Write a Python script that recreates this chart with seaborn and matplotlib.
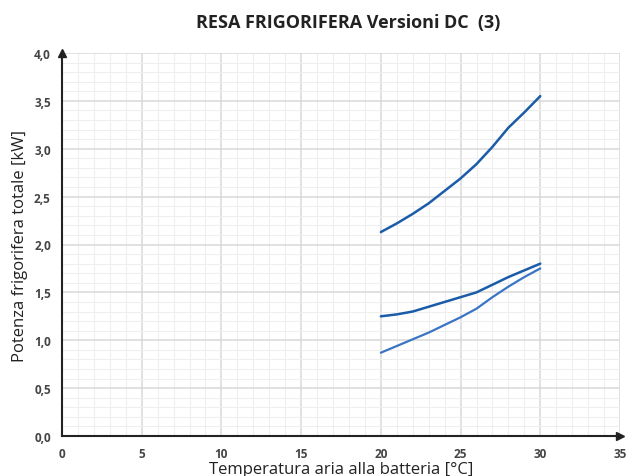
import numpy as np
import pandas as pd
import matplotlib.pyplot as plt
import seaborn as sns
from matplotlib.ticker import MultipleLocator, FuncFormatter

# values
temp = [20, 21, 22, 23, 24, 25, 26, 27, 28, 29, 30]
curve_high = [2.13, 2.22, 2.32, 2.43, 2.56, 2.69, 2.84, 3.02, 3.22, 3.38, 3.55]
curve_mid = [1.25, 1.27, 1.30, 1.35, 1.40, 1.45, 1.50, 1.58, 1.66, 1.73, 1.80]
curve_low = [0.87, 0.94, 1.01, 1.08, 1.16, 1.24, 1.33, 1.45, 1.56, 1.66, 1.75]

x_ticks = [0, 5, 10, 15, 20, 25, 30, 35]
y_ticks = [0.0, 0.5, 1.0, 1.5, 2.0, 2.5, 3.0, 3.5, 4.0]

sns.set_style("white")
plt.rcParams['font.family'] = ['Open Sans', 'DejaVu Sans']

fig = plt.figure(figsize=(6.31, 4.77), dpi=100)
ax = fig.add_axes([62 / 631, 1 - 437 / 477, 558 / 631, 383 / 477])

df = pd.DataFrame({'temp': temp, 'high': curve_high, 'mid': curve_mid, 'low': curve_low})
sns.lineplot(data=df, x='temp', y='high', color='#1b5ca8', linewidth=1.8, ax=ax)
sns.lineplot(data=df, x='temp', y='mid', color='#1b5ca8', linewidth=1.8, ax=ax)
sns.lineplot(data=df, x='temp', y='low', color='#3a74c4', linewidth=1.6, ax=ax)

ax.set_xlim(0, 35)
ax.set_ylim(0, 4.0)
ax.set_xticks(x_ticks)
ax.set_yticks(y_ticks)
ax.xaxis.set_minor_locator(MultipleLocator(1))
ax.yaxis.set_minor_locator(MultipleLocator(0.1))
ax.yaxis.set_major_formatter(FuncFormatter(lambda v, p: f"{v:.1f}".replace('.', ',')))
ax.grid(which='major', color='#d9d9d9', linewidth=1.1)
ax.grid(which='minor', color='#eeeeee', linewidth=0.8)
ax.set_axisbelow(True)

for s in ['top', 'right']:
    ax.spines[s].set_visible(False)
for s in ['left', 'bottom']:
    ax.spines[s].set_color('#222222')
    ax.spines[s].set_linewidth(1.5)

# arrow heads on the axes
ax.plot(1, 0, '>', color='#222222', markersize=6, transform=ax.transAxes, clip_on=False)
ax.plot(0, 1, '^', color='#222222', markersize=6, transform=ax.transAxes, clip_on=False)

ax.tick_params(axis='both', which='both', length=0, labelsize=8.5, colors='#444444', pad=8)
for lbl in ax.get_xticklabels() + ax.get_yticklabels():
    lbl.set_fontweight('bold')

ax.set_xlabel('Temperatura aria alla batteria [°C]', fontsize=12, color='#222222', labelpad=1)
ax.set_ylabel('Potenza frigorifera totale [kW]', fontsize=12, color='#222222', labelpad=4)
fig.text(0.552, 0.952, 'RESA FRIGORIFERA Versioni DC  (3)', ha='center', va='center',
         fontsize=13, fontweight='bold', color='#222222')

fig.savefig('out.png', dpi=100)
